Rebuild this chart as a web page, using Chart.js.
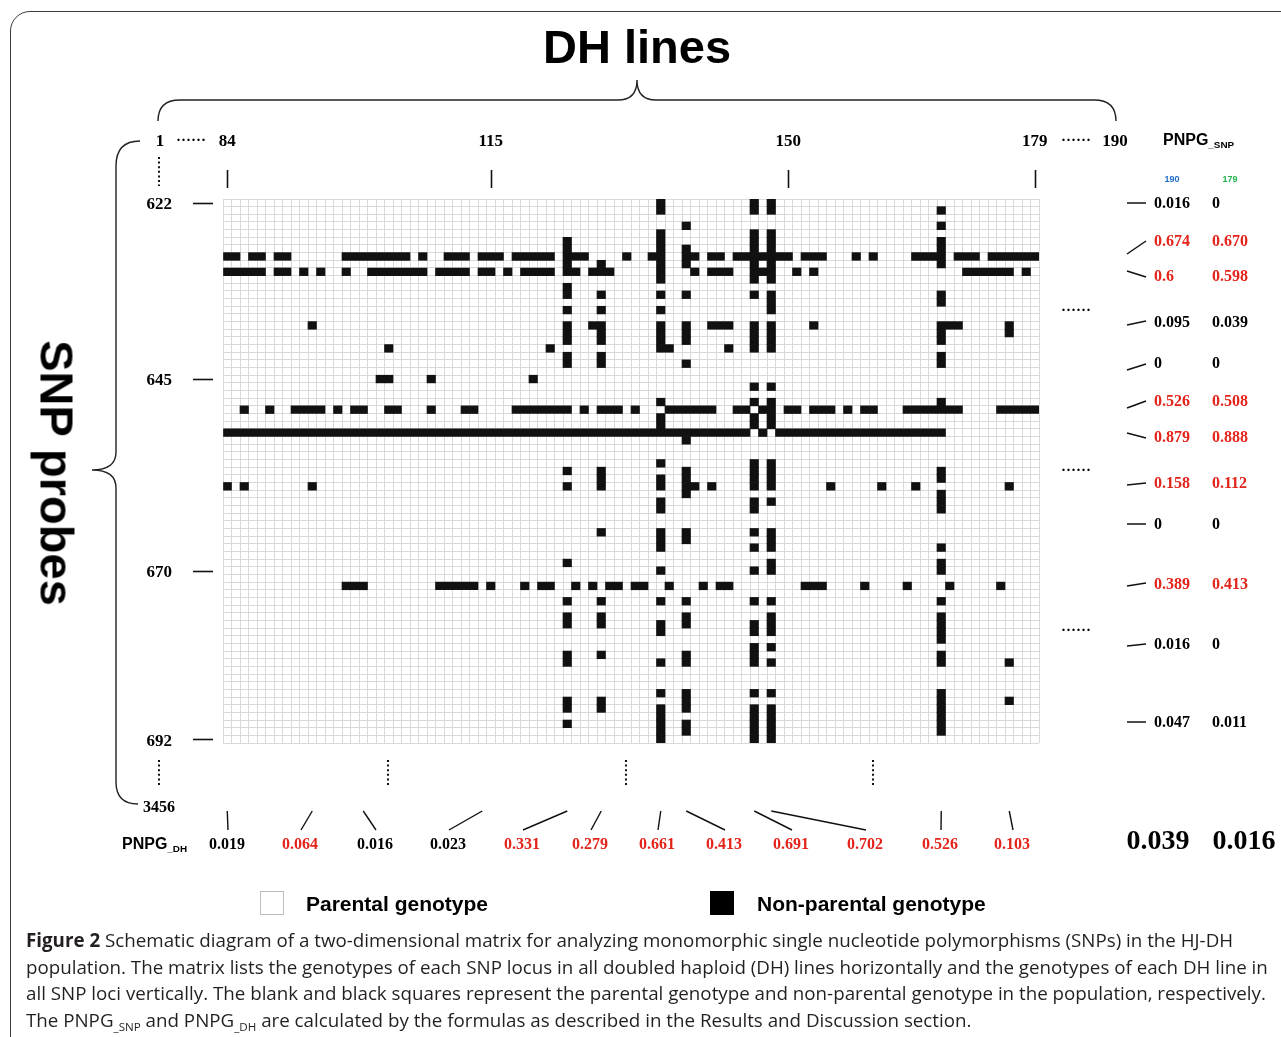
<!DOCTYPE html>
<html>
<head>
<meta charset="utf-8">
<title>DH lines × SNP probes matrix</title>
<script src="https://cdn.jsdelivr.net/npm/chart.js@4.4.1/dist/chart.umd.min.js"></script>
<style>
  html, body { margin:0; padding:0; background:#fff; }
  body { width:1281px; height:1037px; position:relative; overflow:hidden; font-family:"Liberation Sans", Arial, sans-serif; color:#000; }
  #frame { position:absolute; left:10px; top:11px; width:1330px; height:1100px; border:1.5px solid #3a3a3a; border-radius:20px; box-sizing:border-box; }
  #chartWrap { position:absolute; left:0; top:0; width:1281px; height:1037px; }
  svg#ann { position:absolute; left:0; top:0; }
  .t { position:absolute; white-space:nowrap; line-height:1; }
  .cc { transform:translate(-50%,-50%); }
  .lc { transform:translate(0,-50%); }
  .num { font-family:"Liberation Serif","Times New Roman",serif; font-weight:bold; font-size:16px; }
  .red { color:#e3241b; }
  .sans { font-family:"Liberation Sans", Arial, sans-serif; font-weight:bold; }
  .sub { font-size:0.62em; position:relative; top:0.35em; }
  .cap { position:absolute; left:26px; white-space:nowrap; font-family:"Open Sans","Noto Sans",sans-serif; font-size:18px; color:#231f20; line-height:1; transform:translate(0,-50%); }
</style>
</head>
<body>
<div id="frame"></div>
<svg id="ann" width="1281" height="1037" xmlns="http://www.w3.org/2000/svg">
  <g fill="none" stroke="#222" stroke-width="1.4">
    <path d="M158,121 Q158,100 180,100 L618,100 Q637,100 637,80 Q637,100 656,100 L1094,100 Q1116,100 1116,121"/>
    <path d="M140,141 Q116,141 116,166 L116,452 Q116,470 92,470 Q116,470 116,488 L116,782 Q116,804 138,804"/>
  </g>
  <g stroke="#111" stroke-width="2" stroke-dasharray="2 2.6">
    <line x1="159" y1="157" x2="159" y2="186"/>
    <line x1="159" y1="760" x2="159" y2="786"/>
    <line x1="388" y1="760" x2="388" y2="786"/>
    <line x1="626" y1="760" x2="626" y2="786"/>
    <line x1="873" y1="760" x2="873" y2="786"/>
  </g>
  <g id="rightDashes" stroke="#111" stroke-width="1.5"></g>
  <rect x="260.5" y="891.5" width="23" height="23" fill="#fff" stroke="#bdbdbd" stroke-width="1"/>
  <rect x="710" y="891" width="24" height="24" fill="#000"/>
</svg>
<div id="chartWrap"><canvas id="c" width="1281" height="1037"></canvas></div>
<div id="texts"></div>

<script>
// ---------------- DATA ----------------
const dhLines = [];               // DH line numbers shown in the matrix (columns)
for (let d = 84; d <= 179; d++) dhLines.push(d);
const snpProbes = [];             // SNP probe numbers shown in the matrix (rows)
for (let s = 622; s <= 692; s++) snpProbes.push(String(s));

const dhTickLabels = [84, 115, 150, 179];        // top tick labels
const snpTickLabels = ['622', '645', '670', '692']; // left tick labels

// Non-parental genotype cells: per SNP row, DH lines (single) or [from, to] runs
const nonParental = [
 /*622*/ [135,146,148],
 /*623*/ [135,146,148,168],
 /*624*/ [],
 /*625*/ [138,168],
 /*626*/ [135,146,148],
 /*627*/ [124,135,146,148,168],
 /*628*/ [124,135,138,146,148,168],
 /*629*/ [[84,85],[87,88],[90,91],[98,105],107,[110,112],[114,116],[118,122],[124,126],131,[134,135],[138,139],[141,142],[144,150],[152,154],158,160,[165,168],[170,172],[174,179]],
 /*630*/ [124,128,135,138,146,148,168],
 /*631*/ [[84,88],[90,91],93,95,98,[101,107],[109,112],[114,115],117,[119,122],[124,125],[127,129],135,139,[141,143],[146,148],151,153,[171,176],178],
 /*632*/ [135,146,148],
 /*633*/ [124],
 /*634*/ [124,128,135,138,146,148,168],
 /*635*/ [148,168],
 /*636*/ [124,128,135,148],
 /*637*/ [],
 /*638*/ [94,124,[127,128],135,138,[141,143],146,148,153,[168,170],176],
 /*639*/ [124,128,135,138,146,148,168,176],
 /*640*/ [124,128,135,138,146,148,168],
 /*641*/ [103,122,[135,136],143,146,148],
 /*642*/ [124,128,168],
 /*643*/ [124,128,138,168],
 /*644*/ [],
 /*645*/ [[102,103],108,120],
 /*646*/ [146,148],
 /*647*/ [],
 /*648*/ [135,146,148,168],
 /*649*/ [86,89,[92,95],97,[99,100],[103,104],108,[112,113],[118,124],126,[128,130],132,[136,141],[144,145],[147,148],[150,151],[153,155],157,[159,160],[164,170],[175,179]],
 /*650*/ [135,146,148],
 /*651*/ [135,146,148],
 /*652*/ [[84,145],147,[149,168]],
 /*653*/ [138],
 /*654*/ [],
 /*655*/ [],
 /*656*/ [135,146,148],
 /*657*/ [124,128,138,146,148,168],
 /*658*/ [128,135,138,146,148,168],
 /*659*/ [84,86,94,124,128,135,[138,139],141,146,148,155,161,165,176],
 /*660*/ [138,168],
 /*661*/ [135,146,148,168],
 /*662*/ [135,146,168],
 /*663*/ [],
 /*664*/ [],
 /*665*/ [128,135,138,146,148],
 /*666*/ [135,138,148],
 /*667*/ [135,146,148,168],
 /*668*/ [],
 /*669*/ [124,148,168],
 /*670*/ [135,146,148,168],
 /*671*/ [],
 /*672*/ [[98,100],[109,113],115,119,[121,122],125,127,[129,130],[132,133],136,140,[142,143],[152,154],159,164,169,175],
 /*673*/ [],
 /*674*/ [124,128,135,138,146,148,168],
 /*675*/ [],
 /*676*/ [124,128,138,148,168],
 /*677*/ [124,128,135,138,146,148,168],
 /*678*/ [135,146,148,168],
 /*679*/ [168],
 /*680*/ [146,148],
 /*681*/ [124,128,138,146,168],
 /*682*/ [124,135,138,146,148,168,176],
 /*683*/ [],
 /*684*/ [],
 /*685*/ [],
 /*686*/ [135,138,146,148,168],
 /*687*/ [124,128,138,168,176],
 /*688*/ [124,128,135,138,146,148,168],
 /*689*/ [135,146,148,168],
 /*690*/ [124,135,138,146,148,168],
 /*691*/ [135,138,146,148,168],
 /*692*/ [135,146,148]
];

// PNPG_SNP values (right side): for the 190-line and 179-line sets
const pnpgSnp190 = ['0.016','0.674','0.6','0.095','0','0.526','0.879','0.158','0','0.389','0.016','0.047'];
const pnpgSnp179 = ['0','0.670','0.598','0.039','0','0.508','0.888','0.112','0','0.413','0','0.011'];
const pnpgSnpHighlight = [false,true,true,false,false,true,true,true,false,true,false,false];

// PNPG_DH values (bottom) and the DH line each refers to
const pnpgDH = ['0.019','0.064','0.016','0.023','0.331','0.279','0.661','0.413','0.691','0.702','0.526','0.103'];
const pnpgDHLine = [84, 94, 100, 114, 124, 128, 135, 138, 146, 148, 168, 176];
const pnpgDHHighlight = [false,true,false,false,true,true,true,true,true,true,true,true];
const pnpgTotals = ['0.039', '0.016'];

// ---------------- LAYOUT (pixels) ----------------
const rightTextY = [203, 241, 276, 322, 363, 401, 437, 483, 524, 584, 644, 722];
const rightDashFromY = [203, 254, 271, 325, 370, 408, 433, 485, 524, 586, 646, 722];
const rightDashToY   = [203, 241, 277, 321, 364, 401, 438, 483, 524, 583, 644, 722];
const bottomTextX = [227, 300, 375, 448, 522, 590, 657, 724, 791, 865, 940, 1012];

// ---------------- CHART ----------------
const firstDH = dhLines[0];
const runsPerRow = nonParental.map(row => row.map(it => Array.isArray(it) ? it : [it, it]));
const maxRuns = Math.max(...runsPerRow.map(r => r.length));
const datasets = [];
for (let k = 0; k < maxRuns; k++) {
  datasets.push({
    data: runsPerRow.map(r => r[k] ? [r[k][0] - firstDH, r[k][1] - firstDH + 1] : null),
    backgroundColor: '#111111',
    borderWidth: 0,
    borderSkipped: false,
    categoryPercentage: 1,
    barPercentage: 1,
    grouped: false
  });
}

const tickCols = dhTickLabels.map(d => dhLines.indexOf(d) + 0.5);
const tickRows = snpTickLabels.map(s => snpProbes.indexOf(s));
const gridColor = '#d9d9d9';
const tickFont = { family: '"Liberation Serif", "Times New Roman", serif', weight: 'bold', size: 17 };

const marks = {
  id: 'marks',
  afterDraw(chart) {
    const ctx = chart.ctx, ca = chart.chartArea;
    const y = chart.scales.y, x2 = chart.scales.x2, x = chart.scales.x;
    ctx.save();
    ctx.strokeStyle = '#111';
    ctx.lineWidth = 1.6;
    tickRows.forEach(i => {
      const py = Math.round(y.getPixelForValue(i)) + 0.5;
      ctx.beginPath(); ctx.moveTo(ca.left - 30, py); ctx.lineTo(ca.left - 10, py); ctx.stroke();
    });
    tickCols.forEach(v => {
      const px = Math.round(x2.getPixelForValue(v)) + 0.5;
      ctx.beginPath(); ctx.moveTo(px, ca.top - 29); ctx.lineTo(px, ca.top - 11); ctx.stroke();
    });
    ctx.lineWidth = 1.4;
    pnpgDHLine.forEach((d, i) => {
      const px = x.getPixelForValue(d - firstDH + 0.5);
      ctx.beginPath(); ctx.moveTo(px, ca.bottom + 68); ctx.lineTo(bottomTextX[i] + 1, ca.bottom + 87); ctx.stroke();
    });
    ctx.restore();
  }
};

new Chart(document.getElementById('c'), {
  type: 'bar',
  data: { labels: snpProbes, datasets },
  options: {
    indexAxis: 'y',
    responsive: false,
    animation: false,
    events: [],
    layout: { padding: { left: 0, top: 0, right: 242, bottom: 294 } },
    plugins: { legend: { display: false }, tooltip: { enabled: false }, title: { display: false } },
    scales: {
      x: {
        type: 'linear', position: 'bottom', min: 0, max: dhLines.length,
        ticks: { display: false, stepSize: 1, autoSkip: false },
        grid: { color: gridColor, lineWidth: 1, drawTicks: false },
        border: { display: false },
        afterFit(s) { s.height = 0; }
      },
      x2: {
        type: 'linear', position: 'top', min: 0, max: dhLines.length,
        afterBuildTicks(s) { s.ticks = tickCols.map(v => ({ value: v })); },
        ticks: {
          autoSkip: false, maxRotation: 0, padding: 47, color: '#000', font: tickFont,
          callback: (v) => String(dhLines[Math.floor(v)])
        },
        grid: { display: false, drawTicks: false },
        border: { display: false },
        afterFit(s) { s.height = 199; }
      },
      y: {
        type: 'category', position: 'left',
        ticks: {
          autoSkip: false, padding: 51, labelOffset: 2, color: '#000', font: tickFont,
          callback: function (v, i) { const l = snpProbes[i]; return snpTickLabels.includes(l) ? l : ''; }
        },
        grid: { color: gridColor, lineWidth: 1, drawTicks: false, offset: true },
        border: { display: true, color: gridColor },
        afterFit(s) { s.width = 223; }
      }
    }
  },
  plugins: [marks]
});

// ---------------- TEXT ANNOTATIONS ----------------
const texts = document.getElementById('texts');
function addText(html, x, y, cls, style) {
  const d = document.createElement('div');
  d.className = 't ' + (cls || '');
  d.style.left = x + 'px'; d.style.top = y + 'px';
  if (style) d.style.cssText += style;
  d.innerHTML = html;
  texts.appendChild(d);
  return d;
}
addText('DH lines', 637, 46, 'cc sans', 'font-size:47px;');
addText('SNP probes', 57, 473, 'sans', 'font-size:47px;transform:translate(-50%,-50%) rotate(90deg);');

addText('1', 160, 140, 'cc num', 'font-size:17px;');
addText('······', 191, 140, 'cc num', 'font-size:15px;letter-spacing:0px;');
addText('······', 1076, 140, 'cc num', 'font-size:15px;letter-spacing:0px;');
addText('190', 1115, 140, 'cc num', 'font-size:17px;');
addText('3456', 159, 807, 'cc num', 'font-size:16px;');
['310', '470', '630'].forEach(y => addText('······', 1076, +y, 'cc num', 'font-size:15px;letter-spacing:0px;'));

addText('PNPG<span class="sub">_SNP</span>', 1163, 140, 'lc sans', 'font-size:16px;');
addText('190', 1172, 179, 'cc sans', 'font-size:9px;color:#1f6fc8;');
addText('179', 1230, 179, 'cc sans', 'font-size:9px;color:#22b14c;');

const rd = document.getElementById('rightDashes');
pnpgSnp190.forEach((v, i) => {
  const red = pnpgSnpHighlight[i] ? ' red' : '';
  addText(v, 1154, rightTextY[i], 'lc num' + red);
  addText(pnpgSnp179[i], 1212, rightTextY[i], 'lc num' + red);
  const ln = document.createElementNS('http://www.w3.org/2000/svg', 'line');
  ln.setAttribute('x1', 1127); ln.setAttribute('y1', rightDashFromY[i]);
  ln.setAttribute('x2', 1146); ln.setAttribute('y2', rightDashToY[i]);
  rd.appendChild(ln);
});

addText('PNPG<span class="sub">_DH</span>', 122, 844, 'lc sans', 'font-size:16px;');
pnpgDH.forEach((v, i) => addText(v, bottomTextX[i], 844, 'cc num' + (pnpgDHHighlight[i] ? ' red' : '')));
addText(pnpgTotals[0], 1158, 840, 'cc num', 'font-size:28px;');
addText(pnpgTotals[1], 1244, 840, 'cc num', 'font-size:28px;');

addText('Parental genotype', 306, 903, 'lc sans', 'font-size:21px;');
addText('Non-parental genotype', 757, 903, 'lc sans', 'font-size:21px;');

const capLines = [
  '<b>Figure 2</b> Schematic diagram of a two-dimensional matrix for analyzing monomorphic single nucleotide polymorphisms (SNPs) in the HJ-DH',
  'population. The matrix lists the genotypes of each SNP locus in all doubled haploid (DH) lines horizontally and the genotypes of each DH line in',
  'all SNP loci vertically. The blank and black squares represent the parental genotype and non-parental genotype in the population, respectively.',
  'The PNPG<span class="sub">_SNP</span> and PNPG<span class="sub">_DH</span> are calculated by the formulas as described in the Results and Discussion section.'
];
const capY = [940, 967, 993, 1020];
const capEls = capLines.map((h, i) => {
  const d = document.createElement('div');
  d.className = 'cap'; d.style.top = capY[i] + 'px'; d.innerHTML = h;
  document.body.appendChild(d); return d;
});
// fit caption font size so the first line spans its original width
const w0 = capEls[0].getBoundingClientRect().width;
const fs = 18 * 1207 / w0;
capEls.forEach(e => e.style.fontSize = fs.toFixed(2) + 'px');
</script>
</body>
</html>
